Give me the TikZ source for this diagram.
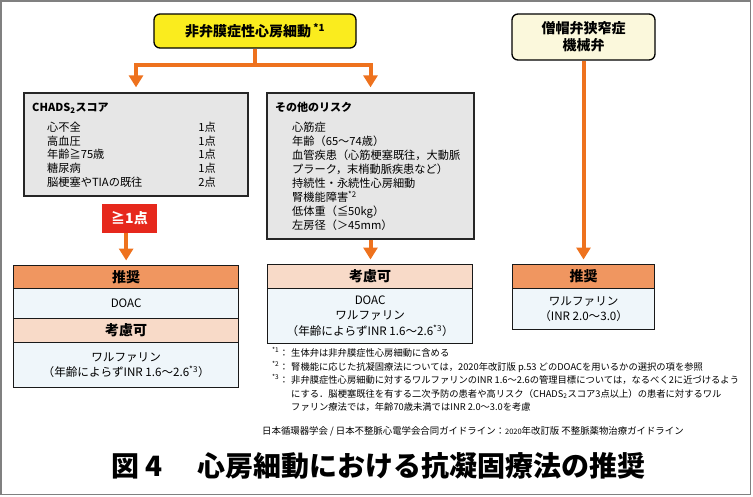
\documentclass[tikz,border=0pt]{standalone}
\usepackage{fontspec}
\setmainfont{Noto Sans CJK JP}
\usetikzlibrary{arrows.meta}
\definecolor{afyellow}{RGB}{250,236,30}
\definecolor{mvcream}{RGB}{251,248,220}
\definecolor{linkorange}{RGB}{238,114,30}
\definecolor{panelgray}{RGB}{230,230,230}
\definecolor{alarmred}{RGB}{230,40,28}
\definecolor{headorange}{RGB}{240,150,96}
\definecolor{headpeach}{RGB}{248,218,200}
\definecolor{rowblue}{RGB}{239,246,250}
\definecolor{framegray}{RGB}{128,128,128}
\tikzset{
  topbox/.style={draw=black, line width=1.3pt, rounded corners=6pt, inner sep=0pt, align=center,
    font=\bfseries\fontsize{14}{17}\selectfont},
  panel/.style={draw=black!85, line width=1.3pt, fill=panelgray, inner sep=0pt},
  rowbox/.style={draw=black!90, line width=1.3pt, inner sep=0pt, anchor=north west, align=center},
  headtxt/.style={font=\bfseries\fontsize{14}{17}\selectfont},
  rowtxt/.style={font=\fontsize{11.6}{15.5}\selectfont},
  bodytxt/.style={font=\fontsize{11.2}{14}\selectfont, inner sep=0pt, anchor=west, text height=9pt, text depth=2pt},
  notetxt/.style={font=\fontsize{9.3}{12}\selectfont, inner sep=0pt, anchor=west, text height=8pt, text depth=2pt},
  oarrow/.style={draw=linkorange, line width=4pt, -{Triangle[length=12pt,width=14pt]}},
}
\begin{document}
\begin{tikzpicture}[x=1pt,y=-1pt]
\useasboundingbox (0,0) rectangle (753,496);
\draw[framegray, line width=1.5pt] (1,1) rectangle (750.5,494.5);

% top boxes
\node[topbox, fill=afyellow, minimum width=202pt, minimum height=34pt] (af) at (255,31)
  {非弁膜症性心房細動\,\textsuperscript{*1}};
\node[topbox, fill=mvcream, minimum width=143pt, minimum height=46pt] (mv) at (583.5,37)
  {僧帽弁狭窄症\\機械弁};

% CHADS2 panel
\node[panel, minimum width=224pt, minimum height=103pt] (chads) at (136,144.5) {};
\node[bodytxt, font=\bfseries\fontsize{11}{14}\selectfont] (chadst) at (32,108) {CHADS\textsubscript{2}スコア};
\foreach \t/\p [count=\i from 0] in {心不全/1点, 高血圧/1点, 年齢≧75歳/1点, 糖尿病/1点, 脳梗塞やTIAの既往/2点}{
  \node[bodytxt] (ci\i) at (47,128+13.7*\i) {\t};
  \node[bodytxt, anchor=east] (cp\i) at (216,128+13.7*\i) {\p};
}
\node[fill=alarmred, text=white, inner sep=0pt, minimum width=55pt, minimum height=29pt,
  font=\bfseries\fontsize{14}{17}\selectfont] (red) at (129.5,218.5) {≧1点};

% other risks panel
\node[panel, minimum width=207pt, minimum height=146pt] (risk) at (370.5,166) {};
\node[bodytxt, font=\bfseries\fontsize{11}{14}\selectfont] (riskt) at (275,108) {その他のリスク};
\foreach \t [count=\i from 0] in {心筋症, 年齢（65〜74歳）, 血管疾患（心筋梗塞既往，大動脈, プラーク，末梢動脈疾患など）, 持続性・永続性心房細動, 腎機能障害\textsuperscript{*2}, 低体重（≦50kg）, 左房径（＞45mm）}{
  \node[bodytxt] (ri\i) at (292,128+14*\i) {\t};
}

% result boxes left
\node[rowbox, fill=headorange, minimum width=225pt, minimum height=23pt, headtxt] (h1) at (13,265) {推奨};
\node[rowbox, fill=rowblue, minimum width=225pt, minimum height=30pt, rowtxt] (d1) at (13,288) {DOAC};
\node[rowbox, fill=headpeach, minimum width=225pt, minimum height=24pt, headtxt] (h2) at (13,318) {考慮可};
\node[rowbox, fill=rowblue, minimum width=225pt, minimum height=45pt, rowtxt] (d2) at (13,342)
  {ワルファリン\\（年齢によらずINR 1.6〜2.6\textsuperscript{*3}）};
% middle
\node[rowbox, fill=headpeach, minimum width=205pt, minimum height=24pt, headtxt] (h3) at (267,264) {考慮可};
\node[rowbox, fill=rowblue, minimum width=205pt, minimum height=55pt, rowtxt] (d3) at (267,288)
  {DOAC\\ワルファリン\\（年齢によらずINR 1.6〜2.6\textsuperscript{*3}）};
% right
\node[rowbox, fill=headorange, minimum width=142pt, minimum height=24pt, headtxt] (h4) at (512,264) {推奨};
\node[rowbox, fill=rowblue, minimum width=142pt, minimum height=41pt, rowtxt] (d4) at (512,288)
  {ワルファリン\\（INR 2.0〜3.0）};

% connectors
\draw[oarrow, shorten >=5pt] (af.south) -- ++(0,16) -| (chads.north);
\draw[oarrow, shorten >=5pt] (af.south) -- ++(0,16) -| (risk.north);
\draw[oarrow, shorten >=4.5pt] (red.south -| h1.north) -- (h1.north);
\draw[oarrow, shorten >=4.5pt] (risk.south) -- (risk.south |- h3.north);
\draw[oarrow, shorten >=4.5pt] (mv.south) -- (mv.south |- h4.north);

% footnotes
\node[notetxt] (m1) at (272,353) {\textsuperscript{*1}：};
\node[notetxt] (n1) at (291,353) {生体弁は非弁膜症性心房細動に含める};
\node[notetxt] (m2) at (272,367) {\textsuperscript{*2}：};
\node[notetxt] (n2) at (291,367) {腎機能に応じた抗凝固療法については，2020年改訂版 p.53 どのDOACを用いるかの選択の項を参照};
\node[notetxt] (m3) at (272,380) {\textsuperscript{*3}：};
\node[notetxt] (n3) at (291,380) {非弁膜症性心房細動に対するワルファリンのINR 1.6〜2.6の管理目標については，なるべく2に近づけるよう};
\node[notetxt] (n4) at (291,394) {にする．脳梗塞既往を有する二次予防の患者や高リスク（CHADS\textsubscript{2}スコア3点以上）の患者に対するワル};
\node[notetxt] (n5) at (291,407) {ファリン療法では，年齢70歳未満ではINR 2.0〜3.0を考慮};

% citation
\node[notetxt, font=\fontsize{9.4}{11}\selectfont] (cite) at (262,431)
  {日本循環器学会 / 日本不整脈心電学会合同ガイドライン：{\fontsize{7.5}{8}\selectfont 2020}年改訂版 不整脈薬物治療ガイドライン};

% title
\node[inner sep=0pt, anchor=west, font=\bfseries\fontsize{28}{32}\selectfont] (title) at (111,466)
  {\makebox[86pt][l]{図 4}心房細動における抗凝固療法の推奨};
\end{tikzpicture}
\end{document}
